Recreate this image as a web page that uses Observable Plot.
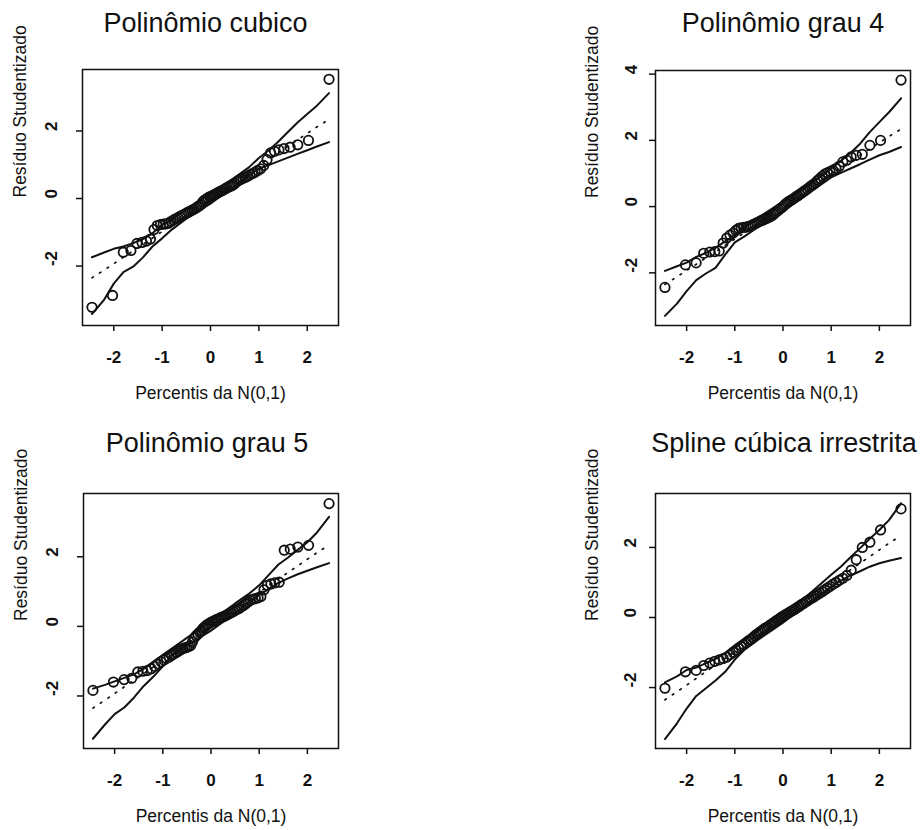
<!DOCTYPE html>
<html>
<head>
<meta charset="utf-8">
<script src="https://cdn.jsdelivr.net/npm/d3@7"></script>
<script src="https://cdn.jsdelivr.net/npm/@observablehq/plot@0.6"></script>
<style>
  body { margin: 0; background: #fff; }
  #grade { position: relative; width: 920px; height: 830px; background: #fff; }
  #grade > div { position: absolute; }
</style>
</head>
<body>
<div id="grade"></div>
<script>
// Percentis teóricos da N(0,1) para n = 70 observações
const percentis = [
  -2.450, -2.025, -1.803, -1.645, -1.520, -1.415, -1.324, -1.242, -1.168, -1.100,
  -1.036, -0.977, -0.921, -0.867, -0.816, -0.767, -0.720, -0.674, -0.630, -0.587,
  -0.545, -0.503, -0.463, -0.424, -0.385, -0.347, -0.309, -0.272, -0.235, -0.199,
  -0.162, -0.126, -0.090, -0.054, -0.018, 0.018, 0.054, 0.090, 0.126, 0.162,
  0.199, 0.235, 0.272, 0.309, 0.347, 0.385, 0.424, 0.463, 0.503, 0.545,
  0.587, 0.630, 0.674, 0.720, 0.767, 0.816, 0.867, 0.921, 0.977, 1.036,
  1.100, 1.168, 1.242, 1.324, 1.415, 1.520, 1.645, 1.803, 2.025, 2.450
];

// Resíduos studentizados ordenados de cada ajuste
const residCubico = [
  -3.22, -2.87, -1.59, -1.54, -1.33, -1.30, -1.26, -1.20, -0.92, -0.80,
  -0.77, -0.76, -0.75, -0.73, -0.68, -0.64, -0.60, -0.57, -0.53, -0.50,
  -0.47, -0.44, -0.40, -0.38, -0.35, -0.32, -0.29, -0.25, -0.22, -0.18,
  -0.10, -0.05, -0.02, 0.02, 0.05, 0.07, 0.09, 0.12, 0.15, 0.18,
  0.21, 0.23, 0.26, 0.29, 0.32, 0.35, 0.37, 0.40, 0.44, 0.50,
  0.54, 0.57, 0.60, 0.63, 0.66, 0.70, 0.74, 0.78, 0.83, 0.88,
  0.98, 1.15, 1.35, 1.40, 1.44, 1.48, 1.52, 1.59, 1.72, 3.53
];
const residGrau4 = [
  -2.44, -1.76, -1.70, -1.41, -1.37, -1.36, -1.34, -1.10, -0.95, -0.86,
  -0.80, -0.72, -0.66, -0.64, -0.63, -0.62, -0.60, -0.58, -0.55, -0.52,
  -0.49, -0.46, -0.43, -0.41, -0.38, -0.36, -0.33, -0.31, -0.28, -0.24,
  -0.19, -0.14, -0.10, -0.06, -0.02, 0.03, 0.08, 0.12, 0.16, 0.19,
  0.22, 0.26, 0.30, 0.33, 0.37, 0.41, 0.45, 0.49, 0.53, 0.58,
  0.63, 0.67, 0.72, 0.79, 0.85, 0.92, 0.98, 1.02, 1.06, 1.10,
  1.15, 1.22, 1.35, 1.40, 1.50, 1.55, 1.58, 1.85, 2.00, 3.82
];
const residGrau5 = [
  -1.84, -1.60, -1.53, -1.49, -1.31, -1.29, -1.27, -1.22, -1.15, -1.08,
  -1.02, -0.97, -0.92, -0.88, -0.83, -0.79, -0.75, -0.71, -0.67, -0.64,
  -0.62, -0.60, -0.58, -0.55, -0.45, -0.33, -0.27, -0.22, -0.17, -0.12,
  -0.05, -0.01, 0.04, 0.07, 0.10, 0.13, 0.15, 0.18, 0.20, 0.22,
  0.25, 0.27, 0.29, 0.31, 0.34, 0.37, 0.40, 0.43, 0.46, 0.49,
  0.52, 0.56, 0.60, 0.65, 0.70, 0.75, 0.78, 0.80, 0.82, 0.86,
  1.05, 1.18, 1.22, 1.25, 1.27, 2.19, 2.22, 2.28, 2.33, 3.53
];
const residSpline = [
  -2.02, -1.55, -1.51, -1.37, -1.30, -1.25, -1.21, -1.17, -1.13, -1.06,
  -0.99, -0.93, -0.87, -0.82, -0.77, -0.72, -0.67, -0.63, -0.58, -0.53,
  -0.48, -0.44, -0.40, -0.36, -0.32, -0.29, -0.26, -0.22, -0.19, -0.15,
  -0.12, -0.08, -0.05, -0.01, 0.02, 0.05, 0.08, 0.11, 0.14, 0.17,
  0.20, 0.23, 0.26, 0.30, 0.33, 0.37, 0.40, 0.44, 0.47, 0.51,
  0.55, 0.58, 0.62, 0.66, 0.70, 0.74, 0.79, 0.84, 0.89, 0.95,
  1.00, 1.06, 1.12, 1.20, 1.35, 1.65, 2.00, 2.15, 2.50, 3.10
];

// Envelopes simulados (mínimo, mediana e máximo) nos percentis abaixo
const envX = [-2.45, -2.2, -2.0, -1.8, -1.6, -1.4, -1.2, -1.0, -0.8, -0.5, 0, 0.5, 0.8, 1.0, 1.2, 1.4, 1.6, 1.8, 2.0, 2.2, 2.45];
const mediana = [-2.35, -2.12, -1.93, -1.74, -1.55, -1.36, -1.17, -0.98, -0.79, -0.49, 0.0, 0.49, 0.79, 0.98, 1.17, 1.36, 1.55, 1.74, 1.93, 2.12, 2.34];

const infCubico = [-3.42, -3.00, -2.52, -2.18, -2.02, -1.75, -1.42, -1.18, -0.92, -0.60, -0.15, 0.38, 0.70, 0.88, 0.99, 1.10, 1.21, 1.32, 1.43, 1.54, 1.67];
const supCubico = [-1.74, -1.60, -1.49, -1.42, -1.32, -1.20, -1.03, -0.78, -0.62, -0.33, 0.17, 0.62, 0.93, 1.20, 1.42, 1.68, 1.97, 2.25, 2.50, 2.75, 3.12];

const infGrau4 = [-3.30, -2.93, -2.55, -2.22, -2.02, -1.85, -1.45, -1.08, -0.90, -0.60, -0.15, 0.38, 0.68, 0.88, 1.02, 1.15, 1.28, 1.42, 1.55, 1.65, 1.80];
const supGrau4 = [-1.94, -1.80, -1.69, -1.52, -1.40, -1.24, -1.05, -0.85, -0.62, -0.32, 0.15, 0.62, 0.92, 1.15, 1.38, 1.62, 1.90, 2.25, 2.55, 2.85, 3.27];

const infGrau5 = [-3.23, -2.82, -2.52, -2.33, -2.05, -1.72, -1.45, -1.15, -0.82, -0.55, -0.12, 0.38, 0.72, 0.90, 1.08, 1.25, 1.38, 1.50, 1.60, 1.70, 1.82];
const supGrau5 = [-1.79, -1.68, -1.58, -1.48, -1.38, -1.22, -1.02, -0.82, -0.62, -0.33, 0.15, 0.66, 0.95, 1.18, 1.48, 1.78, 1.98, 2.20, 2.42, 2.70, 3.15];

const infSpline = [-3.47, -3.02, -2.60, -2.24, -2.02, -1.80, -1.55, -1.20, -0.92, -0.62, -0.15, 0.38, 0.68, 0.88, 1.05, 1.20, 1.32, 1.45, 1.55, 1.62, 1.70];
const supSpline = [-1.85, -1.68, -1.50, -1.43, -1.30, -1.18, -1.02, -0.85, -0.65, -0.35, 0.12, 0.62, 0.98, 1.22, 1.45, 1.72, 1.98, 2.25, 2.50, 2.78, 3.26];

// Textos e marcas dos eixos
const titulos = ["Polinômio cubico", "Polinômio grau 4", "Polinômio grau 5", "Spline cúbica irrestrita"];
const rotuloX = "Percentis da N(0,1)";
const rotuloY = "Resíduo Studentizado";
const ticksX = [-2, -1, 0, 1, 2];
const ticksY = [-2, 0, 2];
const ticksY4 = [-2, 0, 2, 4];

const fonte = "'Liberation Sans', Arial, Helvetica, sans-serif";
const tinta = "#111";

const paineis = [
  { titulo: titulos[0], resid: residCubico, inf: infCubico, sup: supCubico, yDom: [-3.76, 3.82], ticks: ticksY,
    left: 0, top: 0, mL: 82, mR: 122, mT: 69, mB: 90, tickDx: -31, labDx: -62, titDx: -5, titDy: -46 },
  { titulo: titulos[1], resid: residGrau4, inf: infGrau4, sup: supGrau4, yDom: [-3.59, 4.11], ticks: ticksY4,
    left: 460, top: 0, mL: 195, mR: 10, mT: 70, mB: 90, tickDx: -24, labDx: -63, titDx: 0, titDy: -47 },
  { titulo: titulos[2], resid: residGrau5, inf: infGrau5, sup: supGrau5, yDom: [-3.51, 3.82], ticks: ticksY,
    left: 0, top: 415, mL: 83, mR: 122, mT: 78, mB: 82, tickDx: -31, labDx: -62, titDx: -4, titDy: -50 },
  { titulo: titulos[3], resid: residSpline, inf: infSpline, sup: supSpline, yDom: [-3.74, 3.54], ticks: ticksY,
    left: 460, top: 415, mL: 195, mR: 10, mT: 78, mB: 82, tickDx: -25, labDx: -63, titDx: 1, titDy: -50 }
];

const grade = document.getElementById("grade");

for (const p of paineis) {
  const pontos = percentis.map((x, i) => ({ x, y: p.resid[i] }));
  const envInf = envX.map((x, i) => ({ x, y: p.inf[i] }));
  const envSup = envX.map((x, i) => ({ x, y: p.sup[i] }));
  const envMed = envX.map((x, i) => ({ x, y: mediana[i] }));

  const svg = Plot.plot({
    width: 460,
    height: 415,
    marginLeft: p.mL,
    marginRight: p.mR,
    marginTop: p.mT,
    marginBottom: p.mB,
    style: { fontFamily: fonte, background: "#fff", color: tinta, overflow: "visible" },
    x: { domain: [-2.646, 2.646] },
    y: { domain: p.yDom },
    marks: [
      Plot.frame({ stroke: tinta, strokeWidth: 1.5 }),
      Plot.axisX({ ticks: ticksX, tickSize: 6, tickPadding: 19, tickFormat: d => String(d),
                   fontSize: 17, fontWeight: "bold", label: null, strokeWidth: 1.5 }),
      Plot.axisY({ ticks: p.ticks, tickSize: 6, tickFormat: () => "", label: null, strokeWidth: 1.5 }),
      Plot.text(p.ticks, { y: d => d, text: d => String(d), frameAnchor: "left", dx: p.tickDx,
                           rotate: -90, lineAnchor: "middle", fontSize: 17, fontWeight: "bold", fill: tinta }),
      Plot.text([rotuloY], { frameAnchor: "left", dx: p.labDx, rotate: -90, lineAnchor: "middle",
                             fontSize: 17.5, fill: tinta }),
      Plot.text([rotuloX], { frameAnchor: "bottom", dy: 68, lineAnchor: "middle", fontSize: 17.5, fill: tinta }),
      Plot.text([p.titulo], { frameAnchor: "top", dx: p.titDx, dy: p.titDy, lineAnchor: "middle",
                              fontSize: 27, fill: tinta }),
      Plot.line(envMed, { x: "x", y: "y", stroke: tinta, strokeWidth: 1.7, strokeDasharray: "1.6 7.4" }),
      Plot.line(envInf, { x: "x", y: "y", stroke: tinta, strokeWidth: 2 }),
      Plot.line(envSup, { x: "x", y: "y", stroke: tinta, strokeWidth: 2 }),
      Plot.dot(pontos, { x: "x", y: "y", r: 4.7, stroke: tinta, strokeWidth: 1.8, fill: "none" })
    ]
  });

  const caixa = document.createElement("div");
  caixa.style.left = p.left + "px";
  caixa.style.top = p.top + "px";
  caixa.appendChild(svg);
  grade.appendChild(caixa);
}
</script>
</body>
</html>
